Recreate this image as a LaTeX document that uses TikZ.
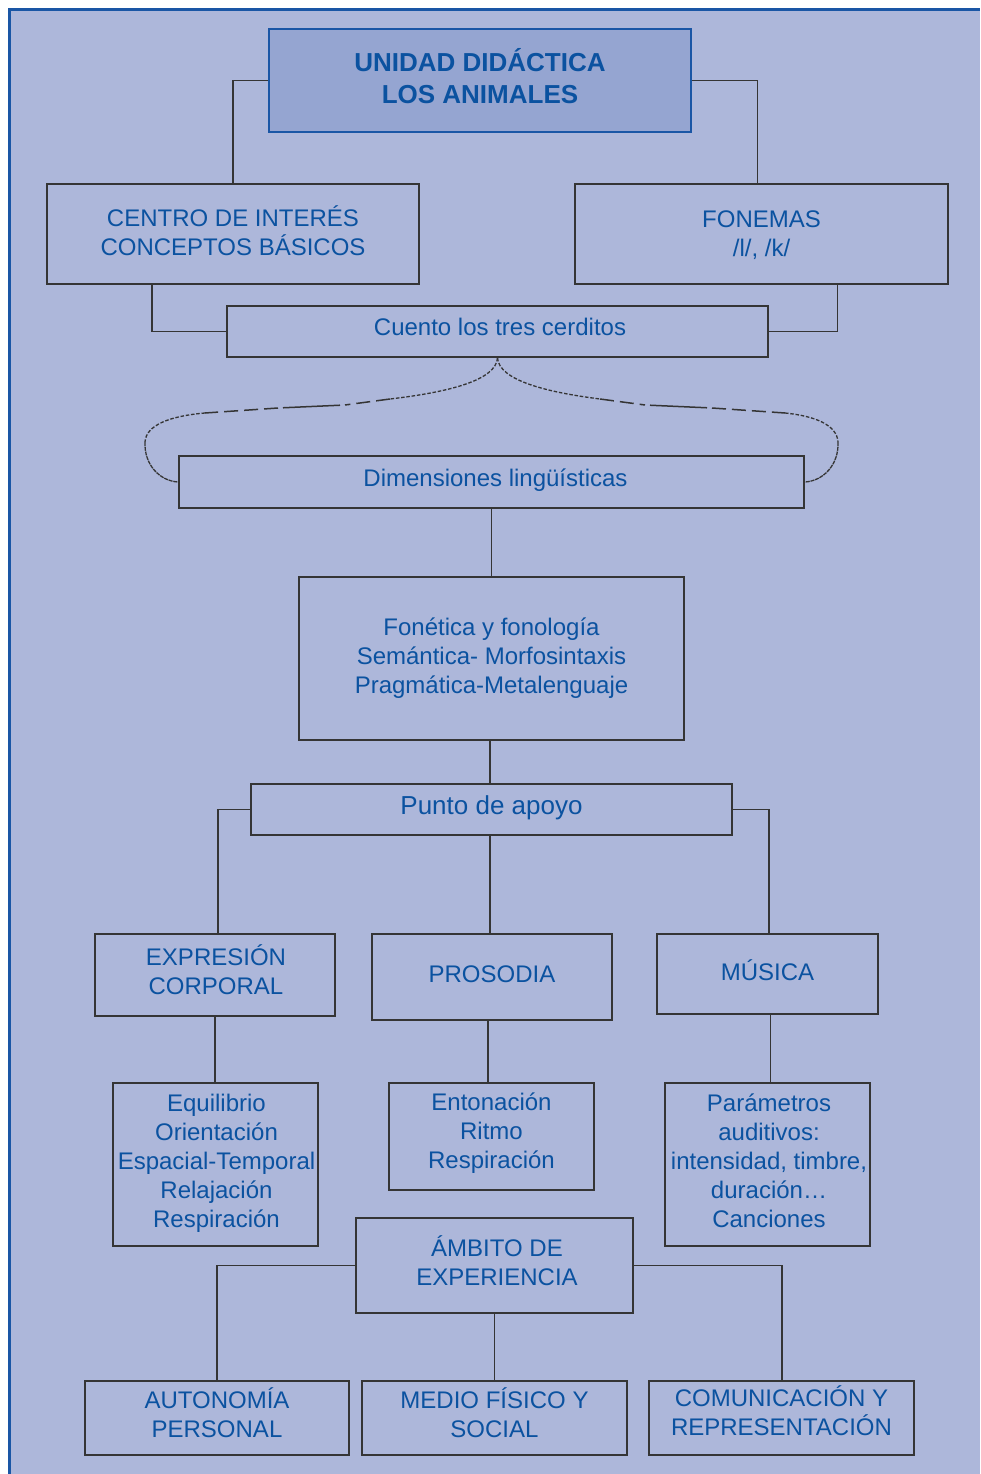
\documentclass[tikz,border=0pt]{standalone}
\usepackage{fontspec}
\setmainfont{Liberation Sans}
\definecolor{bg}{HTML}{ADB7DA}
\definecolor{titlefill}{HTML}{95A5D1}
\definecolor{frameblue}{HTML}{1A56A5}
\definecolor{txt}{HTML}{0B52A0}
\definecolor{edge}{HTML}{353535}
\begin{document}
\begin{tikzpicture}[x=1pt,y=-1pt,
  box/.style={draw=edge, line width=1.8pt, fill=bg, inner sep=0pt},
  lbl/.style={text=txt, font=\fontsize{24}{29}\selectfont, align=center, inner sep=0pt},
  titlebox/.style={draw=frameblue, line width=2pt, fill=titlefill, inner sep=0pt},
  titlelbl/.style={text=txt, font=\bfseries\fontsize{26}{32}\selectfont, align=center, inner sep=0pt},
  conn/.style={draw=edge, line width=1.8pt},
  fine/.style={draw=edge, line width=1.3pt, dash pattern=on 3.5pt off 1.8pt},
  mid/.style={draw=edge, line width=1.5pt, dash pattern=on 14pt off 6pt},
  long/.style={draw=edge, line width=1.5pt, shorten <=5pt, shorten >=5pt}]
\useasboundingbox (0,0) rectangle (980,1474);
\fill[white] (0,0) rectangle (980,1474);
\fill[bg] (9.5,9.5) rectangle (980,1474);
\draw[frameblue, line width=3pt] (9.5,1474) -- (9.5,9.5) -- (980,9.5);

% boxes
\node[titlebox, minimum width=422pt, minimum height=103pt] (title) at (480,80.5) {};
\node[box, minimum width=372pt, minimum height=100pt] (centro) at (233,234) {};
\node[box, minimum width=373pt, minimum height=100pt] (fonemas) at (761.5,234) {};
\node[box, minimum width=541pt, minimum height=51pt] (cuento) at (497.5,331.5) {};
\node[box, minimum width=625pt, minimum height=52pt] (dim) at (491.5,482) {};
\node[box, minimum width=385pt, minimum height=163pt] (fon) at (491.5,658.5) {};
\node[box, minimum width=481pt, minimum height=51pt] (punto) at (491.5,809.5) {};
\node[box, minimum width=240pt, minimum height=82pt] (expr) at (215,975) {};
\node[box, minimum width=240pt, minimum height=86pt] (pros) at (492,977) {};
\node[box, minimum width=221pt, minimum height=80pt] (mus) at (767.5,974) {};
\node[box, minimum width=205pt, minimum height=163pt] (equi) at (215.5,1164.5) {};
\node[box, minimum width=205pt, minimum height=107pt] (ento) at (491.5,1136.5) {};
\node[box, minimum width=205pt, minimum height=163pt] (para) at (767.5,1164.5) {};
\node[box, minimum width=277pt, minimum height=95pt] (ambito) at (494.5,1265.5) {};
\node[box, minimum width=264pt, minimum height=74pt] (auto) at (217,1418) {};
\node[box, minimum width=265pt, minimum height=74pt] (medio) at (494.5,1418) {};
\node[box, minimum width=265pt, minimum height=74pt] (comu) at (781.5,1418) {};

% texts
\node[titlelbl] (titleT) at ([yshift=4pt]title.center) {UNIDAD DIDÁCTICA\\LOS ANIMALES};
\node[lbl] (centroT) at ([yshift=3pt]centro.center) {CENTRO DE INTERÉS\\CONCEPTOS BÁSICOS};
\node[lbl] (fonemasT) at ([yshift=-1pt]fonemas.center) {FONEMAS\\/l/, /k/};
\node[lbl] (cuentoT) at ([xshift=2.5pt,yshift=5pt]cuento.center) {Cuento los tres cerditos};
\node[lbl] (dimT) at ([xshift=4pt,yshift=2pt]dim.center) {Dimensiones lingüísticas};
\node[lbl] (fonT) at (fon.center) {Fonética y fonología\\Semántica- Morfosintaxis\\Pragmática-Metalenguaje};
\node[lbl, font=\fontsize{26}{31}\selectfont] (puntoT) at ([yshift=2pt]punto.center) {Punto de apoyo};
\node[lbl] (exprT) at ([xshift=1pt,yshift=5pt]expr.center) {EXPRESIÓN\\CORPORAL};
\node[lbl] (prosT) at ([yshift=3pt]pros.center) {PROSODIA};
\node[lbl] (musT) at ([yshift=4pt]mus.center) {MÚSICA};
\node[lbl] (equiT) at ([xshift=1pt,yshift=1pt]equi.center) {Equilibrio\\Orientación\\Espacial-Temporal\\Relajación\\Respiración};
\node[lbl] (entoT) at ([yshift=3pt]ento.center) {Entonación\\Ritmo\\Respiración};
\node[lbl] (paraT) at ([xshift=1.5pt,yshift=4pt]para.center) {Parámetros\\auditivos:\\intensidad, timbre,\\duración…\\Canciones};
\node[lbl] (ambitoT) at ([xshift=2.5pt,yshift=5pt]ambito.center) {ÁMBITO DE\\EXPERIENCIA};
\node[lbl] (autoT) at ([yshift=5pt]auto.center) {AUTONOMÍA\\PERSONAL};
\node[lbl] (medioT) at ([yshift=5pt]medio.center) {MEDIO FÍSICO Y\\SOCIAL};
\node[lbl] (comuT) at ([yshift=7pt]comu.center) {COMUNICACIÓN Y\\REPRESENTACIÓN};

% connectors
\draw[conn] (title.west) -| (centro.north);
\draw[conn] (title.east) -| ([xshift=-4pt]fonemas.north);
\draw[conn] ([xshift=-81pt]centro.south) |- (cuento.west);
\draw[conn] ([xshift=76pt]fonemas.south) |- (cuento.east);
\draw[conn] (dim.south) -- (fon.north);
\draw[conn] ([xshift=-1.5pt]fon.south) -- ([xshift=-1.5pt]fon.south |- punto.north);
\draw[conn] (punto.west) -| ([xshift=3pt]expr.north);
\draw[conn] ([xshift=-1.5pt]punto.south) -- ([xshift=-1.5pt]punto.south |- pros.north);
\draw[conn] (punto.east) -| ([xshift=1.5pt]mus.north);
\draw[conn] (expr.south) -- (expr.south |- equi.north);
\draw[conn] ([xshift=-4pt]pros.south) -- ([xshift=-4pt]pros.south |- ento.north);
\draw[conn] ([xshift=3pt]mus.south) -- ([xshift=3pt]mus.south |- para.north);
\draw[conn] (ambito.west) -| (auto.north);
\draw[conn] (ambito.south) -- (medio.north);
\draw[conn] (ambito.east) -| ([xshift=0.5pt]comu.north);

% dashed brace
\coordinate (L1) at (390,399);
\coordinate (L2) at (345,405);
\coordinate (L3) at (278,408);
\coordinate (L4) at (205,413);
\coordinate (L5) at (145,442);
\coordinate (R1) at (600,399);
\coordinate (R2) at (645,405);
\coordinate (R3) at (712,408);
\coordinate (R4) at (785,413);
\coordinate (R5) at (838,442);
\draw[fine] (cuento.south) .. controls (496,380) and (450,392) .. (L1);
\draw[mid] (L1) -- (L2);
\draw[long] (L2) -- (L3);
\draw[mid] (L3) -- (L4);
\draw[fine] (L4) .. controls (170,416) and (146,425) .. (L5);
\draw[fine, dash pattern=on 4pt off 0.8pt] (L5) .. controls (144,465) and (160,481) .. (dim.west);
\draw[fine] (cuento.south) .. controls (499,380) and (545,392) .. (R1);
\draw[mid] (R1) -- (R2);
\draw[long] (R2) -- (R3);
\draw[mid] (R3) -- (R4);
\draw[fine] (R4) .. controls (815,416) and (837,425) .. (R5);
\draw[fine, dash pattern=on 4pt off 0.8pt] (R5) .. controls (839,465) and (823,481) .. (dim.east);
\end{tikzpicture}
\end{document}
